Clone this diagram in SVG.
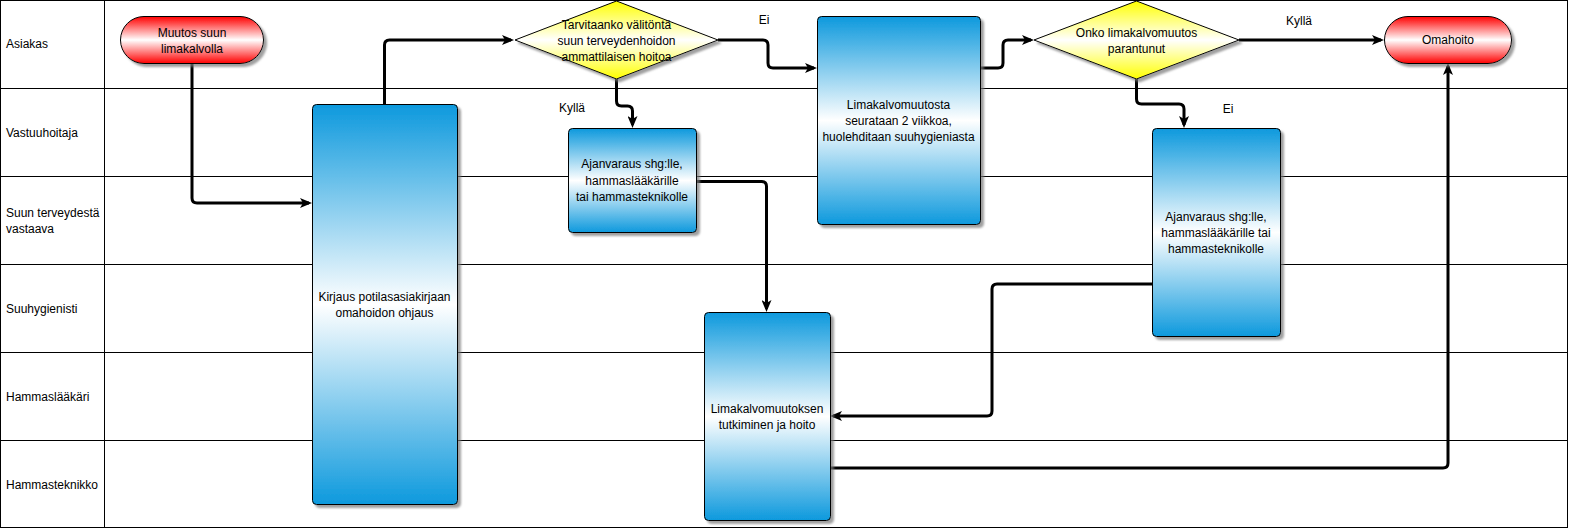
<svg xmlns="http://www.w3.org/2000/svg" width="1569" height="529" viewBox="0 0 1569 529">
<style>
text{font-family:"Liberation Sans",Arial,sans-serif;font-size:12px;fill:#000}
.c{text-anchor:middle}
.lane{fill:none;stroke:#000;stroke-width:1}
.proc{fill:url(#gBlue);stroke:#000;stroke-width:1;filter:url(#sh)}
.term{fill:url(#gRed);stroke:#000;stroke-width:1;filter:url(#sh)}
.dec{fill:url(#gYel);stroke:#000;stroke-width:1;filter:url(#sh)}
.e{fill:none;stroke:#000;stroke-width:3;marker-end:url(#arr)}
.e0{fill:none;stroke:#000;stroke-width:3}
</style>
<defs>
<linearGradient id="gBlue" x1="0" y1="0" x2="0" y2="1">
<stop offset="0" stop-color="#0d99dd"/><stop offset="0.5" stop-color="#ffffff"/><stop offset="1" stop-color="#0d99dd"/>
</linearGradient>
<linearGradient id="gRed" x1="0" y1="0" x2="0" y2="1">
<stop offset="0" stop-color="#ff0000"/><stop offset="0.5" stop-color="#ffffff"/><stop offset="1" stop-color="#ff0000"/>
</linearGradient>
<linearGradient id="gYel" x1="0" y1="0" x2="0" y2="1">
<stop offset="0" stop-color="#ffff00"/><stop offset="0.5" stop-color="#ffffff"/><stop offset="1" stop-color="#ffff00"/>
</linearGradient>
<filter id="sh" x="-10%" y="-10%" width="130%" height="130%">
<feDropShadow dx="3" dy="3" stdDeviation="1" flood-color="#777" flood-opacity="0.7"/>
</filter>
<marker id="arr" viewBox="0 0 12 10" refX="9" refY="5" markerWidth="12" markerHeight="10" markerUnits="userSpaceOnUse" orient="auto">
<path d="M0,0 L12,5 L0,10 L3,5 Z" fill="#000"/>
</marker>
</defs>
<rect width="1569" height="529" fill="#fff"/>
<g id="lanes">
<rect class="lane" x="0.5" y="0.5" width="1567" height="527"/>
<line class="lane" x1="104.5" y1="0" x2="104.5" y2="528"/>
<line class="lane" x1="0" y1="88.5" x2="1568" y2="88.5"/>
<line class="lane" x1="0" y1="176.5" x2="1568" y2="176.5"/>
<line class="lane" x1="0" y1="264.5" x2="1568" y2="264.5"/>
<line class="lane" x1="0" y1="352.5" x2="1568" y2="352.5"/>
<line class="lane" x1="0" y1="440.5" x2="1568" y2="440.5"/>
<text x="6" y="48">Asiakas</text>
<text x="6" y="137">Vastuuhoitaja</text>
<text x="6" y="217">Suun terveydestä</text>
<text x="6" y="233">vastaava</text>
<text x="6" y="313">Suuhygienisti</text>
<text x="6" y="401">Hammaslääkäri</text>
<text x="6" y="489">Hammasteknikko</text>
</g>
<g id="connectors">
<path class="e" d="M192,63 V198 Q192,203 197,203 H309"/>
<path class="e" d="M384.5,104 V45 Q384.5,40 389.5,40 H511"/>
<path class="e" d="M718,40 H763 Q768,40 768,45 V63 Q768,68 773,68 H814"/>
<path class="e" d="M616.5,79 V101 Q616.5,106 621.5,106 H627.5 Q632.5,106 632.5,111 V125"/>
<path class="e" d="M696,181.5 H761.5 Q766.5,181.5 766.5,186.5 V309"/>
<path class="e" d="M980,68 H998 Q1003,68 1003,63 V45 Q1003,40 1008,40 H1031"/>
<path class="e" d="M1239,40 H1381"/>
<path class="e" d="M1136.5,79 V99 Q1136.5,104 1141.5,104 H1179 Q1184,104 1184,109 V125"/>
<path class="e" d="M1152,284 H997 Q992,284 992,289 V411 Q992,416 987,416 H833"/>
<path class="e" d="M830,468 H1443 Q1448,468 1448,463 V66"/>
<text x="764" y="24" class="c">Ei</text>
<text x="572" y="112" class="c">Kyllä</text>
<text x="1299" y="25" class="c">Kyllä</text>
<text x="1228" y="113" class="c">Ei</text>
</g>
<g id="n-start">
<rect class="term" x="120.5" y="16.5" width="143" height="47" rx="23.5"/>
<text x="192" y="37" class="c">Muutos suun</text>
<text x="192" y="53" class="c">limakalvolla</text>
</g>
<g id="n-kirjaus">
<rect class="proc" x="312.5" y="104.5" width="145" height="400" rx="4"/>
<text x="384.5" y="301" class="c">Kirjaus potilasasiakirjaan</text>
<text x="384.5" y="317" class="c">omahoidon ohjaus</text>
</g>
<g id="n-dec1">
<polygon class="dec" points="616.5,1 718,40 616.5,79 515,40"/>
<text x="616.5" y="29" class="c">Tarvitaanko välitöntä</text>
<text x="616.5" y="45" class="c">suun terveydenhoidon</text>
<text x="616.5" y="61" class="c">ammattilaisen hoitoa</text>
</g>
<g id="n-ajanvaraus1">
<rect class="proc" x="568.5" y="128.5" width="128" height="104" rx="4"/>
<text x="632" y="168" class="c">Ajanvaraus shg:lle,</text>
<text x="632" y="185" class="c">hammaslääkärille</text>
<text x="632" y="201" class="c">tai hammasteknikolle</text>
</g>
<g id="n-seuranta">
<rect class="proc" x="817.5" y="16.5" width="163" height="208" rx="4"/>
<text x="898.5" y="109" class="c">Limakalvomuutosta</text>
<text x="898.5" y="125" class="c">seurataan 2 viikkoa,</text>
<text x="898.5" y="141" class="c">huolehditaan suuhygieniasta</text>
</g>
<g id="n-tutkiminen">
<rect class="proc" x="704.5" y="312.5" width="126" height="208" rx="4"/>
<text x="767" y="413" class="c">Limakalvomuutoksen</text>
<text x="767" y="429" class="c">tutkiminen ja hoito</text>
</g>
<g id="n-dec2">
<polygon class="dec" points="1136.5,1 1239,40 1136.5,79 1034,40"/>
<text x="1136.5" y="37" class="c">Onko limakalvomuutos</text>
<text x="1136.5" y="53" class="c">parantunut</text>
</g>
<g id="n-ajanvaraus2">
<rect class="proc" x="1152.5" y="128.5" width="128" height="208" rx="4"/>
<text x="1216" y="221" class="c">Ajanvaraus shg:lle,</text>
<text x="1216" y="237" class="c">hammaslääkärille tai</text>
<text x="1216" y="253" class="c">hammasteknikolle</text>
</g>
<g id="n-omahoito">
<rect class="term" x="1384.5" y="16.5" width="127" height="47" rx="23.5"/>
<text x="1448" y="44" class="c">Omahoito</text>
</g>
</svg>
